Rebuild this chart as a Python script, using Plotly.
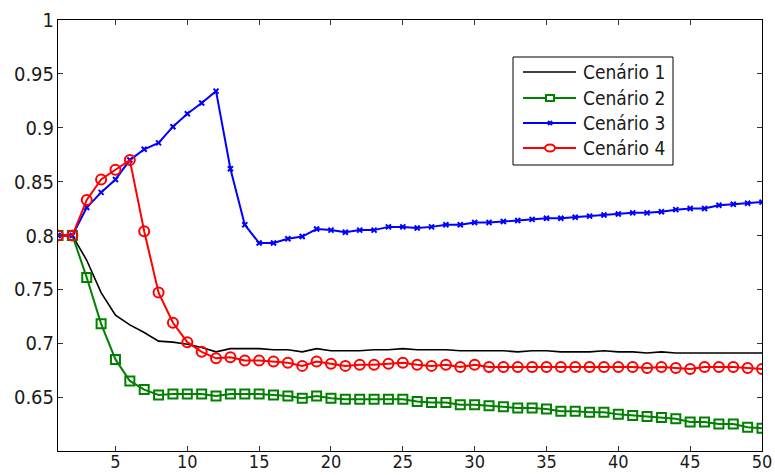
import plotly.graph_objects as go

# Iterations 1..50
iteracao = list(range(1, 51))

cenario_1 = [0.800, 0.800, 0.777, 0.747, 0.726, 0.717, 0.710, 0.702, 0.701, 0.699,
             0.696, 0.692, 0.695, 0.695, 0.695, 0.694, 0.694, 0.692, 0.695, 0.693,
             0.693, 0.693, 0.694, 0.694, 0.695, 0.694, 0.694, 0.694, 0.693, 0.693,
             0.693, 0.693, 0.692, 0.693, 0.693, 0.692, 0.692, 0.692, 0.693, 0.692,
             0.692, 0.691, 0.692, 0.691, 0.691, 0.691, 0.691, 0.691, 0.691, 0.691]

cenario_2 = [0.800, 0.800, 0.761, 0.718, 0.685, 0.665, 0.657, 0.652, 0.653, 0.653,
             0.653, 0.651, 0.653, 0.653, 0.653, 0.652, 0.651, 0.649, 0.651, 0.649,
             0.648, 0.648, 0.648, 0.648, 0.648, 0.646, 0.645, 0.645, 0.643, 0.643,
             0.642, 0.641, 0.640, 0.640, 0.639, 0.637, 0.637, 0.636, 0.636, 0.634,
             0.633, 0.632, 0.631, 0.630, 0.627, 0.627, 0.625, 0.625, 0.622, 0.621]

cenario_3 = [0.800, 0.800, 0.826, 0.840, 0.852, 0.870, 0.880, 0.886, 0.901, 0.913,
             0.923, 0.934, 0.862, 0.810, 0.793, 0.793, 0.797, 0.799, 0.806, 0.805,
             0.803, 0.805, 0.805, 0.808, 0.808, 0.807, 0.808, 0.810, 0.810, 0.812,
             0.812, 0.813, 0.814, 0.815, 0.816, 0.816, 0.817, 0.818, 0.819, 0.820,
             0.821, 0.821, 0.822, 0.824, 0.825, 0.825, 0.828, 0.829, 0.830, 0.831]

cenario_4 = [0.800, 0.800, 0.833, 0.852, 0.861, 0.870, 0.804, 0.747, 0.719, 0.701,
             0.692, 0.686, 0.687, 0.684, 0.684, 0.683, 0.682, 0.679, 0.683, 0.681,
             0.679, 0.680, 0.680, 0.681, 0.682, 0.680, 0.679, 0.680, 0.678, 0.680,
             0.678, 0.678, 0.678, 0.678, 0.678, 0.678, 0.678, 0.678, 0.678, 0.678,
             0.678, 0.677, 0.678, 0.677, 0.676, 0.678, 0.678, 0.678, 0.677, 0.676]

x_ticks = [5, 10, 15, 20, 25, 30, 35, 40, 45, 50]
y_ticks = [0.65, 0.7, 0.75, 0.8, 0.85, 0.9, 0.95, 1.0]
y_tick_text = ["0.65", "0.7", "0.75", "0.8", "0.85", "0.9", "0.95", "1"]

FONT = "DejaVu Sans Condensed, Liberation Sans Narrow, sans-serif"
TXT = "#1a1a1a"

# figure / plot-area geometry in pixels
W, H = 775, 475
ML, MR, MT, MB = 58, 13, 20, 24
PW, PH = W - ML - MR, H - MT - MB


def px_x(p):
    return (p - ML) / PW


def px_y(p):
    return 1 - (p - MT) / PH


series = [
    ("Cenário 1", cenario_1, "black", None),
    ("Cenário 2", cenario_2, "#008000", "square"),
    ("Cenário 3", cenario_3, "#0000ff", "x"),
    ("Cenário 4", cenario_4, "#ff0000", "circle"),
]

fig = go.Figure()
for name, vals, color, sym in series:
    if sym is None:
        fig.add_trace(go.Scatter(x=iteracao, y=vals, name=name, mode="lines",
                                 line=dict(color=color, width=1.6)))
    else:
        msym = {"square": "square-open", "x": "x-thin-open", "circle": "circle-open"}[sym]
        msize = {"square": 9, "x": 5, "circle": 10}[sym]
        fig.add_trace(go.Scatter(x=iteracao, y=vals, name=name, mode="lines+markers",
                                 line=dict(color=color, width=2),
                                 marker=dict(symbol=msym, size=msize,
                                             line=dict(color=color, width=2))))

axis_common = dict(showline=True, linecolor="black", linewidth=1, mirror="allticks",
                   ticks="inside", ticklen=5, tickcolor="#333333", showgrid=False,
                   zeroline=False, automargin=False)

fig.update_xaxes(range=[1, 50], tickvals=x_ticks, ticklabelstandoff=-6,
                 tickfont=dict(family=FONT, size=18, color=TXT), **axis_common)
fig.update_yaxes(range=[0.6, 1.0], tickvals=y_ticks, ticktext=y_tick_text,
                 ticklabelstandoff=-1,
                 tickfont=dict(family=FONT, size=20, color=TXT), **axis_common)

# legend box drawn as shapes + annotations
shapes = []
annotations = []
box_l, box_r, box_t, box_b = 513, 673, 57, 165
shapes.append(dict(type="rect", xref="paper", yref="paper",
                   x0=px_x(box_l), x1=px_x(box_r), y0=px_y(box_b), y1=px_y(box_t),
                   line=dict(color="black", width=1), fillcolor="white", layer="above"))
row_y = [72, 98, 123, 148]
line_l, line_r, mark_x, text_x = 523, 576, 550, 581
for (name, vals, color, sym), ry in zip(series, row_y):
    width = 1.6 if sym is None else 2
    shapes.append(dict(type="line", xref="paper", yref="paper",
                       x0=px_x(line_l), x1=px_x(line_r), y0=px_y(ry), y1=px_y(ry),
                       line=dict(color=color, width=width), layer="above"))
    if sym == "square":
        shapes.append(dict(type="rect", xref="paper", yref="paper",
                           xsizemode="pixel", ysizemode="pixel",
                           xanchor=px_x(mark_x), yanchor=px_y(ry),
                           x0=-4, x1=4, y0=-3, y1=3, fillcolor="white",
                           line=dict(color=color, width=2), layer="above"))
    elif sym == "circle":
        shapes.append(dict(type="circle", xref="paper", yref="paper",
                           xsizemode="pixel", ysizemode="pixel",
                           xanchor=px_x(mark_x), yanchor=px_y(ry),
                           x0=-5, x1=5, y0=-3.5, y1=3.5, fillcolor="white",
                           line=dict(color=color, width=2), layer="above"))
    elif sym == "x":
        for dy in (-2, 2):
            shapes.append(dict(type="line", xref="paper", yref="paper",
                               xsizemode="pixel", ysizemode="pixel",
                               xanchor=px_x(mark_x), yanchor=px_y(ry),
                               x0=-2, x1=2, y0=-dy, y1=dy,
                               line=dict(color=color, width=2), layer="above"))
    annotations.append(dict(text=name, xref="paper", yref="paper",
                            x=px_x(text_x), y=px_y(ry), xanchor="left", yanchor="middle",
                            showarrow=False,
                            font=dict(family=FONT, size=19, color=TXT)))

fig.update_layout(
    width=W, height=H,
    margin=dict(l=ML, r=MR, t=MT, b=MB),
    paper_bgcolor="white", plot_bgcolor="white",
    showlegend=False,
    shapes=shapes, annotations=annotations,
)

fig.write_html("out.html")
